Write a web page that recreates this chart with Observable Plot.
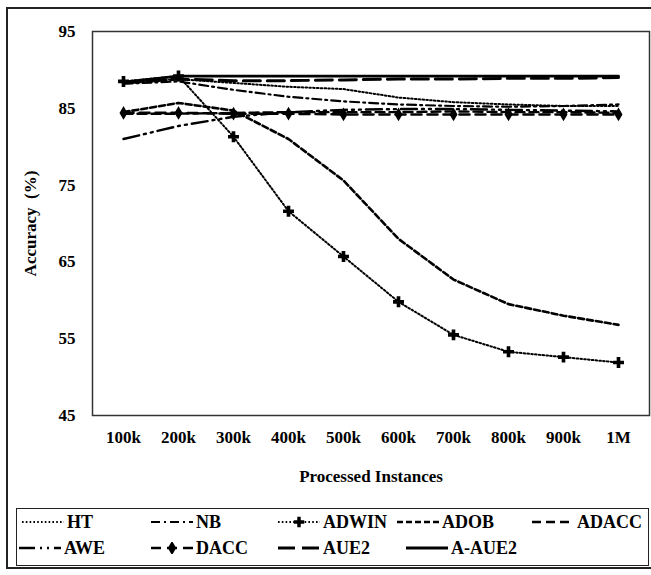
<!DOCTYPE html>
<html>
<head>
<meta charset="utf-8">
<script src="https://cdn.jsdelivr.net/npm/d3@7"></script>
<script src="https://cdn.jsdelivr.net/npm/@observablehq/plot@0.6"></script>
<style>
  body { margin: 0; background: #fff; font-family: "Liberation Serif", "Times New Roman", "DejaVu Serif", serif; }
  #outer { position: absolute; left: 6px; top: 7px; width: 700px; height: 562px; border: 2px solid #222; box-sizing: border-box; }
  #chart { position: absolute; left: 0; top: 0; }
  #legend { position: absolute; left: 16px; top: 508px; width: 633px; height: 58px; border: 1.5px solid #222; box-sizing: border-box; }
  .item { position: absolute; display: flex; align-items: center; height: 24px; font-weight: bold; font-size: 18px; color: #000; white-space: nowrap; }
  .item svg { margin-right: 3px; }
  #chart svg text { font-family: "Liberation Serif", "Times New Roman", "DejaVu Serif", serif !important; }
</style>
</head>
<body>
<div id="outer"></div>
<div id="chart"></div>
<div id="legend"></div>
<script>
// ---- data ----
const instances = ["100k", "200k", "300k", "400k", "500k", "600k", "700k", "800k", "900k", "1M"];
const yTicks = [45, 55, 65, 75, 85, 95];
const seriesNames = ["HT", "NB", "ADWIN", "ADOB", "ADACC", "AWE", "DACC", "AUE2", "A-AUE2"];

const HT     = [88.3, 88.8, 88.3, 87.8, 87.5, 86.4, 85.8, 85.5, 85.3, 85.3];
const NB     = [88.2, 88.5, 87.4, 86.5, 85.9, 85.5, 85.3, 85.2, 85.3, 85.5];
const ADWIN  = [88.5, 89.2, 81.3, 71.6, 65.7, 59.8, 55.5, 53.3, 52.6, 51.9];
const ADOB   = [84.5, 85.7, 84.7, 81.0, 75.6, 68.0, 62.7, 59.5, 58.0, 56.8];
const ADACC  = [84.3, 84.3, 84.4, 84.5, 84.5, 84.5, 84.6, 84.5, 84.5, 84.4];
const AWE    = [81.0, 82.7, 83.9, 84.5, 84.8, 84.9, 84.9, 84.8, 84.7, 84.6];
const DACC   = [84.4, 84.4, 84.3, 84.3, 84.2, 84.2, 84.2, 84.2, 84.2, 84.2];
const AUE2   = [88.3, 88.8, 88.6, 88.6, 88.7, 88.8, 88.8, 88.9, 88.9, 89.0];
const A_AUE2 = [88.4, 89.2, 89.2, 89.2, 89.2, 89.2, 89.2, 89.2, 89.2, 89.2];

const seriesValues = { "HT": HT, "NB": NB, "ADWIN": ADWIN, "ADOB": ADOB, "ADACC": ADACC,
                       "AWE": AWE, "DACC": DACC, "AUE2": AUE2, "A-AUE2": A_AUE2 };

// ---- styles ----
const styles = {
  "HT":     { dash: "1.6 2.2", w: 2 },
  "NB":     { dash: "9 4 2 4", w: 2.2 },
  "ADWIN":  { dash: "1.6 2.2", w: 2, marker: "cross" },
  "ADOB":   { dash: "6 3", w: 2.6 },
  "ADACC":  { dash: "9 5", w: 2.4 },
  "AWE":    { dash: "16 5 2 5 2 5", w: 2.4 },
  "DACC":   { dash: "10 6", w: 2.6, marker: "diamond" },
  "AUE2":   { dash: "17 7", w: 3 },
  "A-AUE2": { dash: null, w: 2.8 }
};

const rows = seriesNames.flatMap(name =>
  seriesValues[name].map((v, i) => ({ series: name, x: instances[i], y: v })));

const FONT = "Liberation Serif, Times New Roman, DejaVu Serif, serif";

const marks = [
  Plot.frame({ stroke: "#333", strokeWidth: 1.5 }),
  Plot.axisX({ tickSize: 0, tickPadding: 15, fontSize: 17, fontWeight: "bold", fontFamily: FONT,
               label: "Processed Instances", labelAnchor: "center", labelOffset: 66 }),
  Plot.axisY({ ticks: yTicks, tickSize: 0, tickPadding: 17, fontSize: 17, fontWeight: "bold", fontFamily: FONT,
               label: "Accuracy\u00a0\u00a0(%)", labelAnchor: "center", labelOffset: 69, labelArrow: "none" })
];
for (const name of seriesNames) {
  const st = styles[name];
  const opts = { x: "x", y: "y", stroke: "#000", strokeWidth: st.w };
  if (st.dash) opts.strokeDasharray = st.dash;
  marks.push(Plot.line(rows.filter(r => r.series === name), opts));
  if (st.marker) {
    marks.push(Plot.dot(rows.filter(r => r.series === name),
      { x: "x", y: "y", symbol: st.marker, fill: "#000", r: st.marker === "cross" ? 4.6 : 4.2 }));
  }
}

const chart = Plot.plot({
  width: 651,
  height: 495,
  marginLeft: 92,
  marginRight: 2,
  marginTop: 31,
  marginBottom: 80,
  style: { fontFamily: FONT, fontWeight: "bold", fontSize: "17px", color: "#000", background: "transparent" },
  x: { type: "point", domain: instances, padding: 0.5 },
  y: { domain: [45, 95] },
  marks
});
document.getElementById("chart").appendChild(chart);

// ---- legend ----
const legendPos = [
  { left: 5,   top: 1 }, { left: 134, top: 1 }, { left: 261, top: 1 }, { left: 380, top: 1 }, { left: 515, top: 1 },
  { left: 2,   top: 27 }, { left: 134, top: 27 }, { left: 261, top: 27 }, { left: 389, top: 27 }
];
const legend = d3.select("#legend");
seriesNames.forEach((name, i) => {
  const st = styles[name];
  const sw = 42;
  const item = legend.append("div").attr("class", "item")
    .style("left", legendPos[i].left + "px").style("top", legendPos[i].top + "px");
  const svg = item.append("svg").attr("width", sw).attr("height", 12);
  svg.append("line").attr("x1", 0).attr("x2", sw).attr("y1", 6).attr("y2", 6)
    .attr("stroke", "#000").attr("stroke-width", st.w)
    .attr("stroke-dasharray", st.dash);
  if (st.marker) {
    const sym = st.marker === "cross" ? d3.symbolCross : d3.symbolDiamond;
    svg.append("path").attr("d", d3.symbol(sym, 60)()).attr("transform", `translate(${sw / 2},6)`).attr("fill", "#000");
  }
  item.append("span").text(name);
});
</script>
</body>
</html>
